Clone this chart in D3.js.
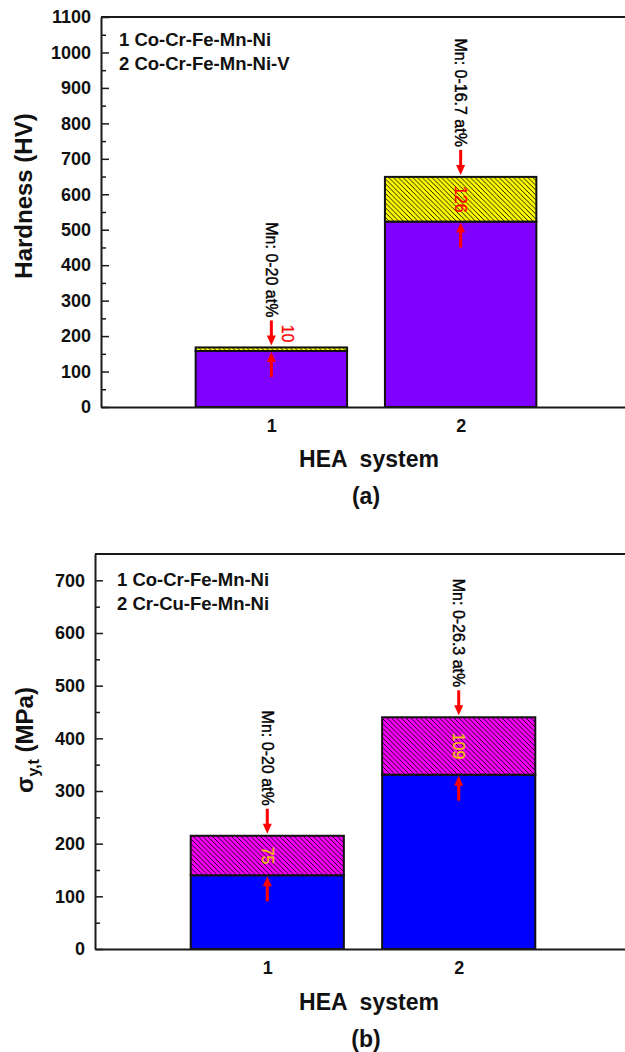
<!DOCTYPE html>
<html>
<head>
<meta charset="utf-8">
<script src="https://cdn.jsdelivr.net/npm/d3@7"></script>
<style>
  html, body { margin: 0; padding: 0; background: #fff; }
  svg { display: block; font-family: "Liberation Sans", Arial, sans-serif; }
</style>
</head>
<body>
<div id="chart"></div>
<script>
// Data
const systems = [1, 2];
const hardnessBase = [158, 523];
const hardnessInc = [10, 126];
const strengthBase = [140, 331];
const strengthInc = [75, 109];
const legendA = ['1 Co-Cr-Fe-Mn-Ni', '2 Co-Cr-Fe-Mn-Ni-V'];
const legendB = ['1 Co-Cr-Fe-Mn-Ni', '2 Cr-Cu-Fe-Mn-Ni'];
const mnRangeA = ['Mn: 0-20 at%', 'Mn: 0-16.7 at%'];
const mnRangeB = ['Mn: 0-20 at%', 'Mn: 0-26.3 at%'];
const yTicksA = d3.range(0, 1101, 100);
const yTicksB = d3.range(0, 701, 100);

const width = 625, height = 1052;

const svg = d3.select('#chart').append('svg')
  .attr('width', width)
  .attr('height', height);

// Hatch patterns for the stacked increments
const defs = svg.append('defs');
function hatch(id, fill) {
  const s = 4.8;
  const p = defs.append('pattern')
    .attr('id', id)
    .attr('patternUnits', 'userSpaceOnUse')
    .attr('width', s)
    .attr('height', s);
  p.append('rect').attr('width', s).attr('height', s).attr('fill', fill);
  p.append('path')
    .attr('d', `M0,0 L${s},${s} M-1,${s - 1} L1,${s + 1} M${s - 1},-1 L${s + 1},1`)
    .attr('stroke', '#000')
    .attr('stroke-width', 0.9);
}
hatch('hatchYellow', '#ffff00');
hatch('hatchMagenta', '#ff00ff');

function arrow(g, x, y0, y1) {
  // y0 tail, y1 tip
  const dir = y1 > y0 ? 1 : -1;
  const head = 10, hw = 4.5;
  g.append('line')
    .attr('x1', x).attr('x2', x)
    .attr('y1', y0).attr('y2', y1 - dir * head + dir)
    .attr('stroke', '#ff0000')
    .attr('stroke-width', 3);
  g.append('path')
    .attr('d', `M${x - hw},${y1 - dir * head} L${x + hw},${y1 - dir * head} L${x},${y1} Z`)
    .attr('fill', '#ff0000');
}

function drawPanel(cfg) {
  const g = svg.append('g');
  const x = d3.scaleLinear().domain([0.1, 2.9]).range([cfg.left, cfg.right]);
  const y = d3.scaleLinear().domain([0, cfg.yMax]).range([cfg.bottom, cfg.top]);
  const bw = x(0.8) - x(0);

  // Bars
  systems.forEach((s, i) => {
    const base = cfg.base[i], total = cfg.base[i] + cfg.inc[i];
    g.append('rect')
      .attr('x', x(s) - bw / 2).attr('width', bw)
      .attr('y', y(base)).attr('height', y(0) - y(base))
      .attr('fill', cfg.baseColor)
      .attr('stroke', '#111').attr('stroke-width', 2);
    g.append('rect')
      .attr('x', x(s) - bw / 2).attr('width', bw)
      .attr('y', y(total)).attr('height', y(base) - y(total))
      .attr('fill', `url(#${cfg.hatch})`)
      .attr('stroke', '#111').attr('stroke-width', 2);

    // Arrows
    const cx = x(s);
    const downTail = y(total) - 27;
    arrow(g, cx, downTail, y(total) - 2);
    arrow(g, cx, y(base) + 26, y(base) + 1);

    // Mn range annotation
    g.append('text')
      .attr('transform', `translate(${cx},${downTail - 3}) rotate(90)`)
      .attr('text-anchor', 'end')
      .attr('dy', '0.35em')
      .attr('font-size', 16)
      .attr('fill', '#000')
      .attr('stroke', '#000')
      .attr('stroke-width', 0.4)
      .text(cfg.mn[i]);

    // Increment value
    const segH = y(base) - y(total);
    const lbl = g.append('text')
      .attr('dy', '0.35em')
      .attr('font-size', 16)
      .attr('fill', cfg.incColor)
      .attr('stroke', cfg.incColor)
      .attr('stroke-width', 0.3)
      .text(cfg.inc[i]);
    if (segH > 30) {
      lbl.attr('transform', `translate(${cx},${(y(base) + y(total)) / 2}) rotate(90)`)
        .attr('text-anchor', 'middle');
    } else {
      lbl.attr('transform', `translate(${cx + 16},${y(total) - 5}) rotate(90)`)
        .attr('text-anchor', 'end');
    }
  });

  // Frame top / right lines
  g.append('line')
    .attr('x1', cfg.left).attr('x2', cfg.right)
    .attr('y1', cfg.top).attr('y2', cfg.top)
    .attr('stroke', '#1a1a1a').attr('stroke-width', 2);
  g.append('line')
    .attr('x1', cfg.right).attr('x2', cfg.right)
    .attr('y1', cfg.top).attr('y2', cfg.bottom)
    .attr('stroke', '#1a1a1a').attr('stroke-width', 2);

  // Y axis: minor ticks
  g.append('g')
    .attr('transform', `translate(${cfg.left},0)`)
    .call(d3.axisLeft(y).tickValues(d3.range(50, cfg.yMax, 100)).tickSize(-5).tickFormat(''))
    .call(a => a.select('.domain').remove())
    .selectAll('line').attr('stroke', '#1a1a1a').attr('stroke-width', 1.5);

  // Y axis: major ticks
  const yAxis = g.append('g')
    .attr('transform', `translate(${cfg.left},0)`)
    .call(d3.axisLeft(y).tickValues(cfg.yTicks).tickFormat(d3.format('d'))
      .tickSizeInner(-8).tickSizeOuter(0).tickPadding(10));
  yAxis.select('.domain').attr('stroke', '#1a1a1a').attr('stroke-width', 2);
  yAxis.selectAll('line').attr('stroke', '#1a1a1a').attr('stroke-width', 1.5);
  yAxis.selectAll('text')
    .attr('font-size', cfg.tickSize)
    .attr('font-weight', 'bold')
    .attr('fill', '#111')
    .attr('font-family', '"Liberation Sans", Arial, sans-serif');

  // X axis
  const xAxis = g.append('g')
    .attr('transform', `translate(0,${cfg.bottom})`)
    .call(d3.axisBottom(x).tickValues(systems).tickSize(0).tickPadding(12).tickFormat(d3.format('d')));
  xAxis.select('.domain').attr('stroke', '#1a1a1a').attr('stroke-width', 2);
  xAxis.selectAll('text')
    .attr('font-size', 18)
    .attr('font-weight', 'bold')
    .attr('fill', '#111')
    .attr('font-family', '"Liberation Sans", Arial, sans-serif');

  // Legend
  cfg.legend.forEach((t, i) => {
    g.append('text')
      .attr('x', cfg.legendX)
      .attr('y', cfg.legendY + i * 24)
      .attr('font-size', 18.5)
      .attr('font-weight', 'bold')
      .attr('fill', '#111')
      .text(t);
  });

  // X title and panel label
  g.append('text')
    .attr('x', 369).attr('y', cfg.xTitleY)
    .attr('text-anchor', 'middle')
    .attr('font-size', 23)
    .attr('font-weight', 'bold')
    .attr('fill', '#111')
    .style('white-space', 'pre')
    .text('HEA  system');
  g.append('text')
    .attr('x', 366).attr('y', cfg.xTitleY + 37)
    .attr('text-anchor', 'middle')
    .attr('font-size', 23)
    .attr('font-weight', 'bold')
    .attr('fill', '#111')
    .text(cfg.panel);

  return g;
}

const gA = drawPanel({
  left: 101, right: 631, top: 17, bottom: 407, yMax: 1100,
  yTicks: yTicksA, tickSize: 18,
  base: hardnessBase, inc: hardnessInc,
  baseColor: '#8000ff', hatch: 'hatchYellow', incColor: '#ff0000',
  mn: mnRangeA, legend: legendA, legendX: 119, legendY: 46,
  xTitleY: 467, panel: '(a)'
});
gA.append('text')
  .attr('transform', 'translate(32,196) rotate(-90)')
  .attr('text-anchor', 'middle')
  .attr('font-size', 24)
  .attr('font-weight', 'bold')
  .attr('fill', '#111')
  .text('Hardness (HV)');

const gB = drawPanel({
  left: 95, right: 631, top: 554, bottom: 949, yMax: 750,
  yTicks: yTicksB, tickSize: 18,
  base: strengthBase, inc: strengthInc,
  baseColor: '#0000ff', hatch: 'hatchMagenta', incColor: '#ffc000',
  mn: mnRangeB, legend: legendB, legendX: 117, legendY: 586,
  xTitleY: 1010, panel: '(b)'
});
const yt = gB.append('text')
  .attr('transform', 'translate(33,740) rotate(-90)')
  .attr('text-anchor', 'middle')
  .attr('font-size', 24)
  .attr('font-weight', 'bold')
  .attr('fill', '#111');
yt.append('tspan').text('σ');
yt.append('tspan').attr('font-size', 16).attr('dy', 6).text('y,t');
yt.append('tspan').attr('dy', -6).text(' (MPa)');
</script>
</body>
</html>
